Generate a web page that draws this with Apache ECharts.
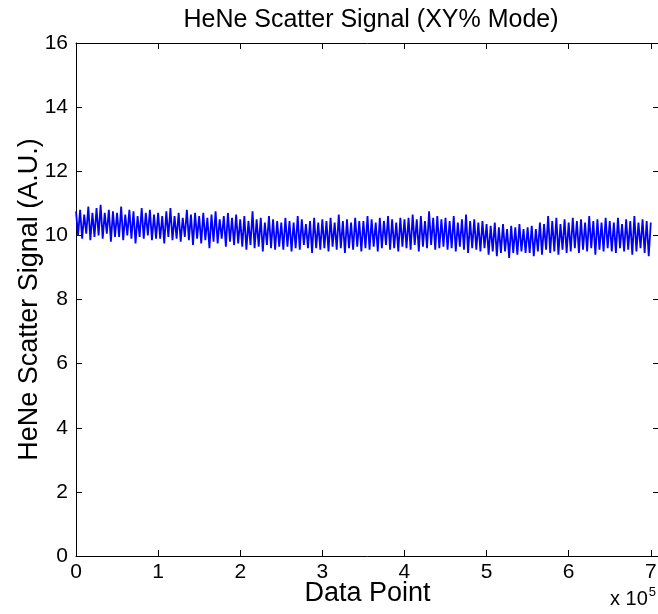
<!DOCTYPE html>
<html>
<head>
<meta charset="utf-8">
<script src="https://cdn.jsdelivr.net/npm/echarts@6/dist/echarts.min.js"></script>
<style>html,body{margin:0;padding:0;background:#fff}#c{width:658px;height:614px}</style>
</head>
<body>
<div id="c"></div>
<script>
// x positions in units of 1e5 data points; envelope read every 0.05
var xStep = 0.05;
var upperEnv = [
  10.75,10.8,10.65,10.9,10.7,10.85,10.95,10.7,10.8,10.75,
  10.7,10.9,10.65,10.8,10.75,10.6,10.85,10.7,10.8,10.65,
  10.7,10.6,10.75,10.85,10.6,10.7,10.55,10.8,10.65,10.7,
  10.6,10.7,10.55,10.65,10.75,10.5,10.6,10.7,10.55,10.65,
  10.5,10.6,10.45,10.75,10.5,10.55,10.4,10.6,10.5,10.45,
  10.4,10.55,10.45,10.4,10.6,10.5,10.35,10.45,10.55,10.4,
  10.5,10.45,10.55,10.4,10.65,10.45,10.5,10.4,10.55,10.45,
  10.45,10.6,10.5,10.4,10.55,10.45,10.6,10.5,10.4,10.55,
  10.5,10.55,10.65,10.5,10.6,10.45,10.75,10.55,10.6,10.5,
  10.55,10.45,10.6,10.4,10.5,10.65,10.45,10.5,10.4,10.45,
  10.35,10.3,10.4,10.25,10.35,10.2,10.3,10.25,10.35,10.2,
  10.25,10.3,10.2,10.4,10.35,10.6,10.45,10.55,10.35,10.5,
  10.4,10.55,10.45,10.5,10.4,10.6,10.45,10.5,10.4,10.55,
  10.45,10.4,10.55,10.35,10.5,10.45,10.6,10.4,10.5,10.45,
  10.4
];
var lowerEnv = [
  10.0,9.9,10.05,9.85,9.95,10.0,9.9,10.05,9.8,9.95,
  9.95,9.85,10.0,9.9,9.75,9.95,9.9,10.0,9.85,9.9,
  9.9,9.75,9.95,9.85,9.9,9.8,9.95,9.85,9.7,9.9,
  9.75,9.85,9.6,9.8,9.75,9.9,9.65,9.8,9.7,9.75,
  9.65,9.55,9.7,9.6,9.65,9.5,9.7,9.6,9.55,9.65,
  9.55,9.65,9.5,9.6,9.55,9.7,9.6,9.45,9.6,9.55,
  9.6,9.5,9.65,9.55,9.6,9.45,9.6,9.55,9.65,9.5,
  9.6,9.55,9.65,9.5,9.6,9.7,9.55,9.6,9.5,9.65,
  9.6,9.55,9.7,9.5,9.65,9.6,9.7,9.55,9.6,9.65,
  9.55,9.6,9.5,9.65,9.55,9.45,9.6,9.55,9.5,9.6,
  9.4,9.5,9.35,9.45,9.5,9.3,9.45,9.4,9.5,9.45,
  9.45,9.35,9.5,9.4,9.55,9.45,9.5,9.4,9.55,9.45,
  9.5,9.6,9.45,9.55,9.5,9.6,9.4,9.55,9.5,9.6,
  9.5,9.45,9.6,9.5,9.55,9.4,9.5,9.6,9.45,9.35,
  9.45
];
var xTicks = [0,1,2,3,4,5,6,7];
var yTicks = [0,2,4,6,8,10,12,14,16];

// zigzag between the read envelopes
var seriesData = [];
for (var i = 0; i < upperEnv.length; i++) {
  seriesData.push([i * xStep, upperEnv[i]]);
  if (i < upperEnv.length - 1) seriesData.push([i * xStep + xStep / 2, lowerEnv[i]]);
}

var FONT = 'Liberation Sans, Arial, sans-serif';
var chart = echarts.init(document.getElementById('c'), null, {renderer: 'canvas'});
var axLine = {show: true, onZero: false, lineStyle: {color: '#000', width: 1}};
var tick = {show: true, inside: true, length: 6, lineStyle: {color: '#000'}};
chart.setOption({
  animation: false,
  backgroundColor: '#fff',
  title: {
    text: 'HeNe Scatter Signal (XY% Mode)',
    left: 366, top: 3, textAlign: 'center',
    textStyle: {fontFamily: FONT, fontSize: 25, fontWeight: 'normal', color: '#000'}
  },
  grid: {left: 76, right: -1, top: 43, bottom: 58, containLabel: false, outerBoundsMode: 'none'},
  xAxis: [{
    type: 'value', min: 0, max: 7.1, interval: 1, position: 'bottom',
    name: 'Data Point', nameLocation: 'middle', nameGap: 24, nameMoveOverlap: false,
    nameTextStyle: {fontFamily: FONT, fontSize: 27, color: '#000'},
    axisLine: axLine, axisTick: tick, splitLine: {show: false},
    axisLabel: {fontFamily: FONT, fontSize: 21, color: '#000', margin: 6,
      formatter: function (v) { return xTicks.indexOf(v) >= 0 ? String(v) : ''; }}
  }, {
    type: 'value', min: 0, max: 7.1, interval: 1, position: 'top',
    axisLine: axLine, axisTick: tick, splitLine: {show: false}, axisLabel: {show: false}
  }],
  yAxis: [{
    type: 'value', min: 0, max: 16, interval: 2, position: 'left',
    name: 'HeNe Scatter Signal (A.U.)', nameLocation: 'middle', nameGap: 33, nameMoveOverlap: false,
    nameTextStyle: {fontFamily: FONT, fontSize: 27, color: '#000'},
    axisLine: axLine, axisTick: tick, splitLine: {show: false},
    axisLabel: {fontFamily: FONT, fontSize: 21, color: '#000', margin: 8,
      formatter: function (v) { return yTicks.indexOf(v) >= 0 ? String(v) : ''; }}
  }, {
    type: 'value', min: 0, max: 16, interval: 2, position: 'right',
    axisLine: axLine, axisTick: tick, splitLine: {show: false}, axisLabel: {show: false}
  }],
  graphic: [{
    type: 'text', left: 610, top: 586,
    style: {
      text: '{a|x 10}{b|5}',
      rich: {
        a: {fontFamily: FONT, fontSize: 20, fill: '#000', verticalAlign: 'bottom'},
        b: {fontFamily: FONT, fontSize: 13, fill: '#000', verticalAlign: 'top', padding: [0, 0, 10, 1]}
      }
    }
  }],
  series: [{
    type: 'line', data: seriesData, symbol: 'none', showSymbol: false,
    lineStyle: {color: '#0000ff', width: 1.8}, clip: true
  }]
});
</script>
</body>
</html>
